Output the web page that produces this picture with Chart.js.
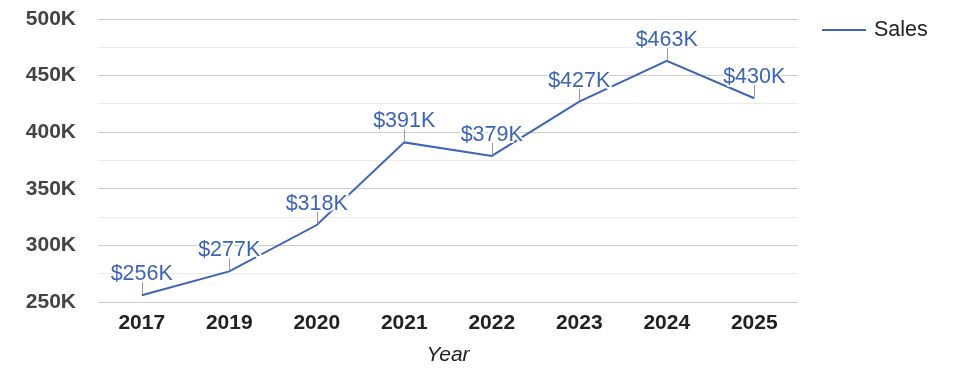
<!DOCTYPE html>
<html>
<head>
<meta charset="utf-8">
<script src="https://cdn.jsdelivr.net/npm/chart.js@4"></script>
<style>
  html, body { margin: 0; padding: 0; background: #fff; }
  #wrap { width: 975px; height: 378px; }
</style>
</head>
<body>
<div id="wrap"><canvas id="ch"></canvas></div>
<script>
const years = ['2017', '2019', '2020', '2021', '2022', '2023', '2024', '2025'];
const sales = [256000, 277000, 318000, 391000, 379000, 427000, 463000, 430000];
const seriesName = 'Sales';
const axisTitle = 'Year';

const BLUE = '#3d65b6';
const FONT = '"Liberation Sans", Arial, sans-serif';

// value labels with a short stem and a white halo
const pointLabels = {
  id: 'pointLabels',
  afterDatasetsDraw(chart) {
    const ctx = chart.ctx;
    const meta = chart.getDatasetMeta(0);
    ctx.save();
    meta.data.forEach((pt, i) => {
      const x = Math.round(pt.x) + 0.5, y = pt.y;
      ctx.strokeStyle = '#999';
      ctx.lineWidth = 1;
      ctx.beginPath();
      ctx.moveTo(x, y - 1);
      ctx.lineTo(x, y - 13);
      ctx.stroke();
      const txt = '$' + Math.round(sales[i] / 1000) + 'K';
      ctx.font = '21.5px ' + FONT;
      ctx.textAlign = 'center';
      ctx.textBaseline = 'alphabetic';
      ctx.lineWidth = 4;
      ctx.strokeStyle = '#fff';
      ctx.lineJoin = 'round';
      ctx.strokeText(txt, pt.x, y - 15);
      ctx.fillStyle = BLUE;
      ctx.fillText(txt, pt.x, y - 15);
    });
    ctx.restore();
  }
};

// legend on the right
const sideLegend = {
  id: 'sideLegend',
  afterDraw(chart) {
    const ctx = chart.ctx;
    const ds = chart.data.datasets[0];
    ctx.save();
    ctx.strokeStyle = ds.borderColor;
    ctx.lineWidth = 2;
    ctx.beginPath();
    ctx.moveTo(822, 30);
    ctx.lineTo(866, 30);
    ctx.stroke();
    ctx.font = '21.5px ' + FONT;
    ctx.fillStyle = '#222';
    ctx.textBaseline = 'middle';
    ctx.fillText(ds.label, 874, 30);
    ctx.restore();
  }
};

new Chart(document.getElementById('ch'), {
  type: 'line',
  data: {
    labels: years,
    datasets: [{
      label: seriesName,
      data: sales,
      borderColor: BLUE,
      borderWidth: 2,
      pointRadius: 0,
      tension: 0,
      fill: false
    }]
  },
  options: {
    responsive: true,
    maintainAspectRatio: false,
    animation: false,
    layout: { padding: { top: 19, right: 177, bottom: 10, left: 0 } },
    plugins: { legend: { display: false }, tooltip: { enabled: false } },
    scales: {
      x: {
        offset: true,
        grid: { display: false, drawTicks: false },
        border: { display: false },
        ticks: { color: '#222', font: { family: FONT, size: 21, weight: 'bold' }, padding: 9, maxRotation: 0 },
        title: { display: true, text: axisTitle, color: '#222', font: { family: FONT, size: 21, style: 'italic' }, padding: { top: 4, bottom: 0 } },
        afterFit(s) { s.height = 66; s.paddingLeft = 0; s.paddingRight = 0; }
      },
      y: {
        min: 250000,
        max: 500000,
        grid: {
          drawTicks: false,
          color: c => (c.tick.value % 50000 === 0 ? '#cccccc' : '#ebebeb')
        },
        border: { display: false },
        ticks: {
          stepSize: 25000,
          autoSkip: false,
          padding: 22,
          color: '#444',
          font: { family: FONT, size: 21, weight: 'bold' },
          callback: v => (v % 50000 === 0 ? (v / 1000) + 'K' : '')
        },
        afterFit(s) { s.width = 98; s.paddingTop = 0; s.paddingBottom = 0; }
      }
    }
  },
  plugins: [pointLabels, sideLegend]
});
</script>
</body>
</html>
